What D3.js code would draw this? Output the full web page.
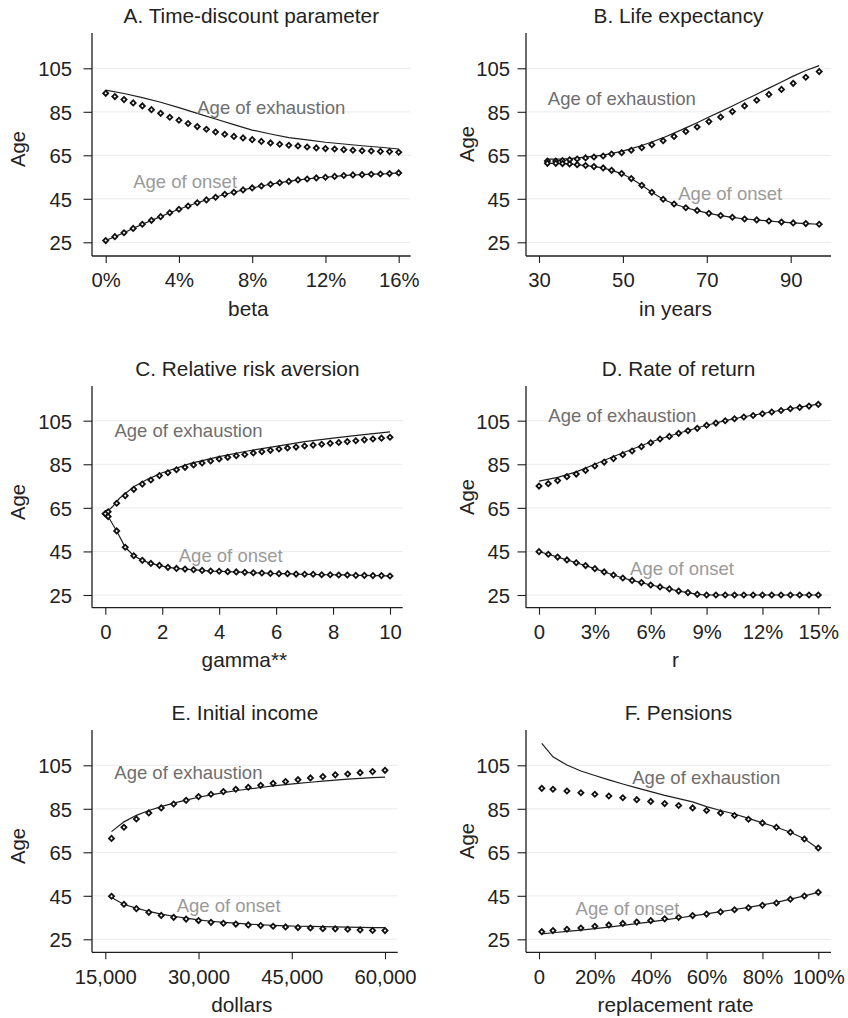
<!DOCTYPE html>
<html><head><meta charset="utf-8">
<script src="https://cdn.jsdelivr.net/npm/d3@7"></script>
<style>
body{margin:0;background:#fff;}
svg{display:block;}
text{font-family:"Liberation Sans",Arial,Helvetica,sans-serif;}
</style>
</head><body>
<svg id="chart" width="848" height="1018"></svg>
<script>
// ---------------- DATA ----------------
const yTicks = [25, 45, 65, 85, 105];
const panelTitles = ["A. Time-discount parameter", "B. Life expectancy", "C. Relative risk aversion",
                     "D. Rate of return", "E. Initial income", "F. Pensions"];
const xTitles = ["beta", "in years", "gamma**", "r", "dollars", "replacement rate"];
const seriesNames = ["Age of exhaustion", "Age of onset"];

// A. Time-discount parameter (beta, %)
const aTicks = [0, 4, 8, 12, 16];
const aTickLabels = ["0%", "4%", "8%", "12%", "16%"];
const aX = [0,0.5,1,1.5,2,2.5,3,3.5,4,4.5,5,5.5,6,6.5,7,7.5,8,8.5,9,9.5,10,10.5,11,11.5,12,12.5,13,13.5,14,14.5,15,15.5,16];
const aExhaust = [93.5,92.0,90.6,89.1,87.7,86.0,84.3,82.5,81.1,79.6,78.2,77.0,75.7,74.7,73.7,73.0,72.2,71.4,70.7,70.1,69.6,69.3,68.8,68.4,68.1,67.9,67.6,67.3,67.1,67.0,66.8,66.7,66.4];
const aOnset = [25.8,27.6,29.4,31.4,33.3,35.1,36.8,38.6,40.2,41.7,43.2,44.5,45.7,47.1,48.0,49.1,50.0,50.9,51.7,52.4,53.0,53.7,54.1,54.6,54.9,55.3,55.7,56.0,56.1,56.3,56.4,56.6,56.9];
const aLineX = [0,1,2,3,4,5,6,7,8,9,10,11,12,13,14,15,16];
const aExhaustLine = [95.0,93.4,91.5,89.4,86.9,84.3,81.7,79.1,76.6,74.8,73.1,72.1,71.0,70.2,69.4,68.7,67.9];
const aOnsetLine = aOnset;

// B. Life expectancy (years)
const bTicks = [30, 50, 70, 90];
const bTickLabels = ["30", "50", "70", "90"];
const bX = [32.0,34.0,35.6,37.3,39.1,41.1,43.1,45.3,47.3,49.7,52.0,54.5,56.9,59.6,62.2,65.0,67.7,70.5,73.3,76.1,79.0,81.9,84.8,87.8,90.6,93.6,96.8];
const bExhaust = [62.4,62.4,62.6,62.9,63.3,63.8,64.2,64.7,65.6,66.2,67.3,68.5,69.9,71.7,73.7,76.0,78.0,80.5,82.6,85.1,87.7,90.3,93.0,95.3,98.1,100.9,103.5];
const bOnset = [61.3,61.3,61.2,61.0,60.7,60.3,59.8,59.2,58.1,56.6,54.3,51.2,48.0,44.8,42.6,40.9,39.6,38.3,37.3,36.5,35.7,35.3,34.8,34.3,33.9,33.6,33.3];
const bLineX = bX;
const bExhaustLine = [63.2,63.2,63.3,63.5,63.8,64.2,64.6,65.1,65.9,66.8,68.1,69.5,71.1,73.1,75.2,77.6,80.0,82.6,85.1,87.7,90.4,93.1,95.9,98.7,101.4,104.0,106.2];
const bOnsetLine = bOnset;

// C. Relative risk aversion (gamma)
const cTicks = [0, 2, 4, 6, 8, 10];
const cTickLabels = ["0", "2", "4", "6", "8", "10"];
const cX = [0,0.1,0.4,0.7,1.0,1.3,1.6,1.9,2.2,2.5,2.8,3.1,3.4,3.7,4.0,4.3,4.6,4.9,5.2,5.5,5.8,6.1,6.4,6.7,7.0,7.3,7.6,7.9,8.2,8.5,8.8,9.1,9.4,9.7,10.0];
const cExhaust = [62.3,63.2,67.1,70.6,73.5,75.9,77.8,79.8,81.1,82.5,83.6,84.7,85.6,86.5,87.4,88.2,88.9,89.5,90.2,90.8,91.4,92.0,92.5,92.9,93.4,93.8,94.2,94.6,95.0,95.4,95.8,96.2,96.6,97.0,97.4];
const cOnset = [62.3,61.0,54.4,46.9,43.0,40.9,39.5,38.6,37.7,37.2,36.9,36.6,36.3,36.0,35.9,35.7,35.6,35.4,35.2,35.1,34.9,34.8,34.8,34.6,34.5,34.5,34.3,34.3,34.2,34.2,34.0,34.0,33.9,33.9,33.7];
const cLineX = [0,0.25,0.5,1,1.5,2,3,4,5,6,7,8,9,10];
const cExhaustLine = [62.5,65.5,69.4,74.7,78.2,81.1,85.4,88.5,91.1,93.2,95.4,97.0,98.5,99.9];
const cOnsetLine = cOnset;

// D. Rate of return (r, %)
const dTicks = [0, 3, 6, 9, 12, 15];
const dTickLabels = ["0", "3%", "6%", "9%", "12%", "15%"];
const dX = [0,0.5,1,1.5,2,2.5,3,3.5,4,4.5,5,5.5,6,6.5,7,7.5,8,8.5,9,9.5,10,10.5,11,11.5,12,12.5,13,13.5,14,14.5,15];
const dExhaust = [75.0,76.1,77.5,79.3,80.5,82.2,84.2,86.0,87.6,89.4,91.1,93.1,94.9,96.6,97.8,99.2,100.4,101.5,102.9,103.9,105.0,105.9,106.7,107.4,108.2,109.0,109.7,110.5,111.1,111.7,112.5];
const dOnset = [44.9,43.7,42.4,41.1,39.8,38.5,37.1,35.6,34.2,32.8,31.7,30.7,29.6,28.7,27.8,26.8,26.1,25.3,25.0,25.0,25.0,25.0,25.0,25.0,25.0,25.0,25.0,25.0,25.0,25.0,25.0];
const dLineX = [0,1,2,3,4,5,6,7,8,9,10,11,12,13,14,15];
const dExhaustLine = [77.3,79.0,81.5,85.0,88.6,91.9,95.2,98.0,100.5,102.9,105.0,106.8,108.3,109.8,111.2,112.6];
const dOnsetLine = dOnset;

// E. Initial income (dollars)
const eTicks = [15000, 30000, 45000, 60000];
const eTickLabels = ["15,000", "30,000", "45,000", "60,000"];
const eX = [16000,18000,20000,22000,24000,26000,28000,30000,32000,34000,36000,38000,40000,42000,44000,46000,48000,50000,52000,54000,56000,58000,60000];
const eExhaust = [71.4,76.5,80.3,83.1,85.4,87.2,88.9,90.6,91.7,92.9,94.0,94.9,95.8,96.7,97.5,98.4,99.2,99.8,100.6,101.0,101.6,102.1,102.7];
const eOnset = [44.8,41.1,39.1,37.4,36.0,35.1,34.3,33.6,32.8,32.4,32.0,31.6,31.3,31.0,30.7,30.4,30.2,29.9,29.8,29.6,29.3,29.1,29.0];
const eLineX = eX;
const eExhaustLine = [74.5,79.0,82.0,84.2,86.0,87.6,89.0,90.3,91.4,92.4,93.3,94.1,94.8,95.5,96.1,96.7,97.2,97.7,98.2,98.6,99.0,99.3,99.6];
const eOnsetLine = [44.2,41.0,39.3,37.8,36.6,35.6,34.7,33.9,33.3,32.8,32.4,32.0,31.7,31.4,31.2,31.0,30.9,30.8,30.7,30.6,30.5,30.4,30.4];

// F. Pensions (replacement rate, %)
const fTicks = [0, 20, 40, 60, 80, 100];
const fTickLabels = ["0", "20%", "40%", "60%", "80%", "100%"];
const fX = [1,5,10,15,20,25,30,35,40,45,50,55,60,65,70,75,80,85,90,95,100];
const fExhaust = [94.4,94.0,93.2,92.4,91.7,90.9,90.1,89.2,88.4,87.4,86.5,85.4,84.2,83.1,81.9,80.2,78.5,76.5,74.2,71.1,67.0];
const fOnset = [28.5,29.0,29.6,30.2,31.0,31.6,32.3,32.9,33.6,34.4,35.1,35.9,36.6,37.6,38.6,39.5,40.6,41.7,43.4,44.9,46.6];
const fLineX = fX;
const fExhaustLine = [115.1,108.9,105.1,102.4,100.3,98.3,96.4,94.6,92.9,91.2,89.7,88.2,86.0,84.2,82.6,80.6,78.5,76.5,74.2,71.2,66.6];
const fOnsetLine = [27.5,28.0,28.6,29.2,29.9,30.6,31.4,32.2,33.0,33.9,34.8,35.8,36.7,37.7,38.7,39.7,40.8,42.0,43.5,45.0,46.6];

// ---------------- LAYOUT ----------------
const rows = [
  {top: 33,  bottom: 256,   y25: 242.3, y105: 68.3},
  {top: 386, bottom: 607.7, y25: 595,   y105: 420.7},
  {top: 730, bottom: 952.3, y25: 939.3, y105: 765.3}
];
const cols = [
  {axisX: 92,  tickPad: 11.5, ageX: 25,  ageOff: 116},
  {axisX: 526, tickPad: 7.5,  ageX: 474, ageOff: 111}
];

const panels = [
  {row:0, col:0, dom:[0,16], rng:[105.7,398.7], end:410.7, ticks:aTicks, tl:aTickLabels,
   mx:aX, ex:aExhaust, on:aOnset, lx:aLineX, exl:aExhaustLine, olx:aX, onl:aOnsetLine,
   exLab:[5.0,83.9], onLab:[1.5,50.1]},
  {row:0, col:1, dom:[30,90], rng:[539,790.7], end:831, ticks:bTicks, tl:bTickLabels,
   mx:bX, ex:bExhaust, on:bOnset, lx:bLineX, exl:bExhaustLine, olx:bX, onl:bOnsetLine,
   exLab:[32.1,88.1], onLab:[63.2,44.5]},
  {row:1, col:0, dom:[0,10], rng:[105.3,390], end:402.7, ticks:cTicks, tl:cTickLabels,
   mx:cX, ex:cExhaust, on:cOnset, lx:cLineX, exl:cExhaustLine, olx:cX, onl:cOnsetLine,
   exLab:[0.32,97.3], onLab:[2.58,40.0]},
  {row:1, col:1, dom:[0,15], rng:[539,818.3], end:831, ticks:dTicks, tl:dTickLabels,
   mx:dX, ex:dExhaust, on:dOnset, lx:dLineX, exl:dExhaustLine, olx:dX, onl:dOnsetLine,
   exLab:[0.5,104.5], onLab:[4.89,34.2]},
  {row:2, col:0, dom:[15000,60000], rng:[105.3,385], end:397.7, ticks:eTicks, tl:eTickLabels,
   mx:eX, ex:eExhaust, on:eOnset, lx:eLineX, exl:eExhaustLine, olx:eLineX, onl:eOnsetLine,
   exLab:[16450,98.7], onLab:[26480,37.4]},
  {row:2, col:1, dom:[0,100], rng:[539,818.3], end:831, ticks:fTicks, tl:fTickLabels,
   mx:fX, ex:fExhaust, on:fOnset, lx:fLineX, exl:fExhaustLine, olx:fLineX, onl:fOnsetLine,
   exLab:[33.4,96.3], onLab:[13.1,36.2]}
];

const svg = d3.select("#chart");
const ink = "#1e1e1e";
const marker = d3.symbol().type(d3.symbolSquare).size(13);

panels.forEach((p, i) => {
  const r = rows[p.row], c = cols[p.col];
  const x = d3.scaleLinear().domain(p.dom).range(p.rng);
  const y = d3.scaleLinear().domain([25, 105]).range([r.y25, r.y105]);
  const g = svg.append("g");

  // gridlines
  g.selectAll(".grid").data(yTicks).join("line")
    .attr("x1", c.axisX).attr("x2", p.end)
    .attr("y1", d => y(d)).attr("y2", d => y(d))
    .attr("stroke", "#ebebeb").attr("stroke-width", 1);

  // y axis
  const ya = g.append("g").attr("transform", `translate(${c.axisX},0)`)
    .call(d3.axisLeft(y).tickValues(yTicks).tickSize(8.5).tickPadding(c.tickPad));
  ya.select(".domain").remove();
  ya.selectAll(".tick line").attr("stroke", ink).attr("stroke-width", 1.1);
  ya.selectAll(".tick text").attr("font-size", 20.3).attr("fill", "#222").attr("dy", "0.37em")
    .style("font-family", '"Liberation Sans",Arial,sans-serif');
  g.append("line").attr("x1", c.axisX).attr("x2", c.axisX).attr("y1", r.top).attr("y2", r.bottom)
    .attr("stroke", ink).attr("stroke-width", 1.3);

  // x axis
  const xa = g.append("g").attr("transform", `translate(0,${r.bottom})`)
    .call(d3.axisBottom(x).tickValues(p.ticks).tickFormat((d, k) => p.tl[k]).tickSize(7).tickPadding(10));
  xa.select(".domain").remove();
  xa.selectAll(".tick line").attr("stroke", ink).attr("stroke-width", 1.1);
  xa.selectAll(".tick text").attr("font-size", 20.3).attr("fill", "#222")
    .style("font-family", '"Liberation Sans",Arial,sans-serif');
  g.append("line").attr("x1", c.axisX).attr("x2", p.end).attr("y1", r.bottom).attr("y2", r.bottom)
    .attr("stroke", ink).attr("stroke-width", 1.3);

  // titles
  const cx = (c.axisX + p.end) / 2;
  g.append("text").attr("x", cx).attr("y", r.top - 10).attr("text-anchor", "middle")
    .attr("font-size", 20.8).attr("fill", "#222").text(panelTitles[i]);
  g.append("text").attr("x", cx - 3).attr("y", r.bottom + 59.5).attr("text-anchor", "middle")
    .attr("font-size", 20.8).attr("fill", "#222").text(xTitles[i]);
  g.append("text").attr("transform", `translate(${c.ageX},${r.top + c.ageOff}) rotate(-90)`)
    .attr("text-anchor", "middle").attr("font-size", 20.3).attr("fill", "#222").text("Age");

  // model lines
  const line = d3.line().x(d => x(d[0])).y(d => y(d[1]));
  g.append("path").attr("d", line(p.lx.map((v, k) => [v, p.exl[k]])))
    .attr("fill", "none").attr("stroke", ink).attr("stroke-width", 1.2);
  g.append("path").attr("d", line(p.olx.map((v, k) => [v, p.onl[k]])))
    .attr("fill", "none").attr("stroke", ink).attr("stroke-width", 1.2);

  // markers
  [p.ex, p.on].forEach(arr => {
    g.selectAll(null).data(p.mx.map((v, k) => [v, arr[k]])).join("path")
      .attr("d", marker)
      .attr("transform", d => `translate(${x(d[0])},${y(d[1])}) rotate(45)`)
      .attr("fill", "#fff").attr("stroke", "#111").attr("stroke-width", 1.8);
  });

  // series labels
  g.append("text").attr("x", x(p.exLab[0])).attr("y", y(p.exLab[1]))
    .attr("font-size", 18.5).attr("fill", "#6e6e6e").text(seriesNames[0]);
  g.append("text").attr("x", x(p.onLab[0])).attr("y", y(p.onLab[1]))
    .attr("font-size", 18.5).attr("fill", "#9a9a9a").text(seriesNames[1]);
});
</script>
</body></html>
